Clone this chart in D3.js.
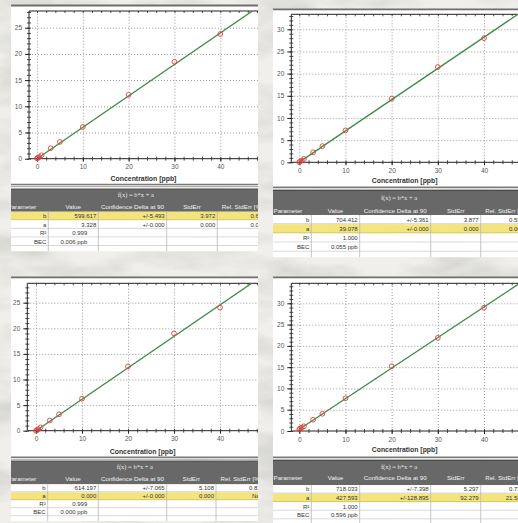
<!DOCTYPE html>
<html><head><meta charset="utf-8">
<script src="https://cdn.jsdelivr.net/npm/d3@7"></script>
<style>body{margin:0;background:#efeeeb}svg{display:block}</style>
</head><body>
<svg id="c" width="518" height="523"></svg>
<script>
// ---------- data ----------
const concentrations = [0, 0.2, 0.5, 1, 3, 5, 10, 20, 30, 40];
const intensity1 = [0.05, 0.15, 0.35, 0.65, 2.0, 3.2, 6.05, 12.2, 18.5, 23.8];
const intensity2 = [0.05, 0.18, 0.4, 0.75, 2.25, 3.65, 7.2, 14.35, 21.5, 28.0];
const intensity3 = [0.0, 0.12, 0.3, 0.65, 2.0, 3.2, 6.25, 12.55, 19.0, 24.05];
const intensity4 = [0.45, 0.55, 0.8, 1.1, 2.65, 4.05, 7.7, 15.2, 21.9, 28.95];
const slopeB = [599.617, 704.412, 614.197, 718.033];
const interceptA = [3.328, 39.078, 0.000, 427.593];
const xTickValues = [0, 10, 20, 30, 40];
const yTicksShort = [0, 5, 10, 15, 20, 25];
const yTicksLong = [0, 5, 10, 15, 20, 25, 30];
const xAxisTitle = "Concentration [ppb]";
const fitFormula = "f(x) = b*x + a";
const tableHeaders = ["Parameter", "Value", "Confidence Delta at 90", "StdErr", "Rel. StdErr [%]"];
const paramNames = ["b", "a", "R²", "BEC"];
const valueColumn = [
  ["599.617", "3.328", "0.999", "0.006 ppb"],
  ["704.412", "39.078", "1.000", "0.055 ppb"],
  ["614.197", "0.000", "0.999", "0.000 ppb"],
  ["718.033", "427.593", "1.000", "0.596 ppb"]];
const confColumn = [["+/-5.493", "+/-0.000"], ["+/-5.361", "+/-0.000"], ["+/-7.065", "+/-0.000"], ["+/-7.398", "+/-128.895"]];
const stdErrColumn = [["3.972", "0.000"], ["3.877", "0.000"], ["5.108", "0.000"], ["5.297", "92.279"]];
const relStdErrColumn = [["0.662", "0.000"], ["0.550", "0.000"], ["0.832", "NaN"], ["0.738", "21.581"]];
const highlightedRow = [0, 1, 1, 1];

const series = [intensity1, intensity2, intensity3, intensity4];
const yTickSets = [yTicksShort, yTicksLong, yTicksShort, yTicksLong];

// ---------- layout ----------
const layouts = [
  {cx0: 11, cx1: 258, top: 5.5, bot: 185.5, plotL: 29, plotT: 11, x0: 37, x40: 220.3, y0: 158.7, yRefPx: 27.7, yRef: 25, titleY: 180.5,
   tTop: 188.5, hBot: 211.7, rowH: 8.6, fxY: 195, hdrY: 207, cols: [48.3, 98.3, 166.7, 217.3], relRight: 265.5, paramX: 7.5, statInset: 9},
  {cx0: 273, cx1: 518, top: 9.3, bot: 188.3, plotL: 291.3, plotT: 14.3, x0: 299.3, x40: 484, y0: 162.3, yRefPx: 29.3, yRef: 30, titleY: 183,
   tTop: 190, hBot: 215, rowH: 9.2, fxY: 197.5, hdrY: 211, cols: [311.3, 359.7, 430.7, 480.7], relRight: 524, paramX: 273.5, statInset: 0},
  {cx0: 11, cx1: 258, top: 277.3, bot: 458.3, plotL: 27.3, plotT: 283.3, x0: 36, x40: 220, y0: 430.7, yRefPx: 302.7, yRef: 25, titleY: 453.5,
   tTop: 460.5, hBot: 484.3, rowH: 8, fxY: 467, hdrY: 478.5, cols: [47.7, 98.3, 166.7, 216], relRight: 264, paramX: 7.5, statInset: 9},
  {cx0: 273, cx1: 518, top: 277.3, bot: 458.3, plotL: 291.3, plotT: 283.3, x0: 299.3, x40: 484, y0: 431, yRefPx: 303.3, yRef: 30, titleY: 452,
   tTop: 460, hBot: 485, rowH: 8.6, fxY: 467, hdrY: 478, cols: [311.3, 359.7, 430.7, 480.7], relRight: 524, paramX: 273.5, statInset: 0}
];

const FONT = "'Liberation Sans', Arial, sans-serif";
const svg = d3.select("#c");
const defs = svg.append("defs");

// marble-like background texture
const f = defs.append("filter").attr("id", "tex").attr("x", 0).attr("y", 0).attr("width", "100%").attr("height", "100%");
f.append("feTurbulence").attr("type", "fractalNoise").attr("baseFrequency", "0.012 0.03").attr("numOctaves", 4).attr("seed", 7);
f.append("feColorMatrix").attr("type", "matrix").attr("values", "0 0 0 0 0.6  0 0 0 0 0.6  0 0 0 0 0.58  2.4 0 0 0 -0.95");
svg.append("rect").attr("width", 518).attr("height", 523).attr("fill", "#f0efec");
svg.append("rect").attr("width", 518).attr("height", 523).attr("filter", "url(#tex)").attr("opacity", 0.75);

layouts.forEach((L, i) => {
  const g = svg.append("g");
  // chart clip
  defs.append("clipPath").attr("id", "cc" + i).append("rect")
    .attr("x", L.cx0).attr("y", L.top - 2).attr("width", L.cx1 - L.cx0).attr("height", L.bot - L.top + 4);
  const cg = g.append("g").attr("clip-path", `url(#cc${i})`);
  cg.append("rect").attr("x", L.cx0).attr("y", L.top).attr("width", L.cx1 - L.cx0).attr("height", L.bot - L.top).attr("fill", "#fff");
  cg.append("line").attr("x1", L.cx0).attr("x2", L.cx1).attr("y1", L.top).attr("y2", L.top).attr("stroke", "#6e6e6e").attr("stroke-width", 1.8);

  const x = d3.scaleLinear().domain([0, 40]).range([L.x0, L.x40]);
  const y = d3.scaleLinear().domain([0, L.yRef]).range([L.y0, L.yRefPx]);
  const xMax = x.invert(L.cx1), yMax = y.invert(L.plotT);
  const plotW = L.cx1 - L.plotL, plotH = L.y0 - L.plotT;

  // grid
  cg.append("g").attr("transform", `translate(0,${L.y0})`)
    .call(d3.axisBottom(x).tickValues(xTickValues).tickSize(-plotH).tickFormat(""))
    .call(a => { a.select(".domain").remove(); a.selectAll("line").attr("stroke", "#8e8e8e").attr("stroke-dasharray", "1 2").attr("stroke-width", 0.9); });
  cg.append("g").attr("transform", `translate(${L.plotL},0)`)
    .call(d3.axisLeft(y).tickValues(yTickSets[i].filter(v => v > 0)).tickSize(-plotW).tickFormat(""))
    .call(a => { a.select(".domain").remove(); a.selectAll("line").attr("stroke", "#8e8e8e").attr("stroke-dasharray", "1 2").attr("stroke-width", 0.9); });

  // minor ticks
  const yMinor = d3.range(0, Math.floor(yMax) + 1);
  const xMinor = d3.range(0, Math.floor(xMax) + 1, 2);
  [2, -2].forEach(s => {
    cg.append("g").attr("transform", `translate(${L.plotL},0)`)
      .call(d3.axisLeft(y).tickValues(yMinor).tickSize(s).tickFormat("").tickSizeOuter(0))
      .call(a => { a.select(".domain").remove(); a.selectAll("line").attr("stroke", "#222").attr("stroke-width", 0.8); });
    cg.append("g").attr("transform", `translate(0,${L.y0})`)
      .call(d3.axisBottom(x).tickValues(xMinor).tickSize(s).tickFormat("").tickSizeOuter(0))
      .call(a => { a.select(".domain").remove(); a.selectAll("line").attr("stroke", "#222").attr("stroke-width", 0.8); });
  });
  cg.append("g").attr("transform", `translate(0,${L.plotT})`)
    .call(d3.axisBottom(x).tickValues(xMinor).tickSize(2).tickFormat("").tickSizeOuter(0))
    .call(a => { a.select(".domain").remove(); a.selectAll("line").attr("stroke", "#222").attr("stroke-width", 0.8); });

  // major ticks + labels
  cg.append("g").attr("transform", `translate(${L.plotL},0)`)
    .call(d3.axisLeft(y).tickValues(yTickSets[i]).tickSize(4).tickPadding(3).tickFormat(d3.format("d")))
    .call(a => { a.select(".domain").remove(); a.selectAll("line").attr("stroke", "#222");
      a.selectAll("text").attr("font-family", FONT).attr("font-size", 6.5).attr("fill", "#555"); });
  cg.append("g").attr("transform", `translate(0,${L.y0})`)
    .call(d3.axisBottom(x).tickValues(xTickValues).tickSize(3).tickPadding(3).tickFormat(d3.format("d")))
    .call(a => { a.select(".domain").remove(); a.selectAll("line").attr("stroke", "#222");
      a.selectAll("text").attr("font-family", FONT).attr("font-size", 6.5).attr("fill", "#555"); });

  // frame
  cg.append("path").attr("d", `M${L.cx1},${L.plotT}H${L.plotL}V${L.y0}H${L.cx1}`)
    .attr("fill", "none").attr("stroke", "#222").attr("stroke-width", 1);

  cg.append("text").attr("x", (L.plotL + L.cx1) / 2).attr("y", L.titleY).attr("text-anchor", "middle")
    .attr("font-family", FONT).attr("font-size", 6.9).attr("fill", "#333").attr("font-weight", "bold").text(xAxisTitle);

  // fit line + points
  defs.append("clipPath").attr("id", "pc" + i).append("rect")
    .attr("x", L.plotL).attr("y", L.plotT).attr("width", plotW).attr("height", plotH + 4);
  const pg = cg.append("g").attr("clip-path", `url(#pc${i})`);
  const fitX = [0, xMax];
  const fitLine = d3.line().x(d => x(d)).y(d => y((slopeB[i] * d + interceptA[i]) / 1000));
  pg.append("path").attr("d", fitLine(fitX)).attr("stroke", "#3f8b46").attr("stroke-width", 1.3).attr("fill", "none");
  pg.selectAll("circle").data(concentrations).join("circle")
    .attr("cx", d => x(d)).attr("cy", (d, k) => y(series[i][k])).attr("r", 2.4)
    .attr("fill", "none").attr("stroke", "#e2403c").attr("stroke-width", 0.9);

  // bottom bar
  cg.append("line").attr("x1", L.cx0).attr("x2", L.cx1).attr("y1", L.bot - 1).attr("y2", L.bot - 1).attr("stroke", "#7a7a7a").attr("stroke-width", 1.4);
  cg.append("line").attr("x1", L.cx0).attr("x2", L.cx1).attr("y1", L.bot + 1).attr("y2", L.bot + 1).attr("stroke", "#b0b0b0").attr("stroke-width", 1);

  // ---------- table ----------
  const nRows = 4;
  const tBottom = L.hBot + L.rowH * (nRows + 0.6);
  defs.append("clipPath").attr("id", "tc" + i).append("rect")
    .attr("x", L.cx0).attr("y", L.tTop).attr("width", L.cx1 - L.cx0).attr("height", tBottom - L.tTop);
  const tg = g.append("g").attr("clip-path", `url(#tc${i})`);
  tg.append("rect").attr("x", L.cx0).attr("y", L.tTop).attr("width", L.cx1 - L.cx0).attr("height", L.hBot - L.tTop).attr("fill", "#686868");
  tg.append("line").attr("x1", L.cx0).attr("x2", L.cx1).attr("y1", L.tTop + 0.5).attr("y2", L.tTop + 0.5).attr("stroke", "#4a4a4a");
  tg.append("text").attr("x", (L.cols[0] + L.cols[3]) / 2 + 3).attr("y", L.fxY).attr("dy", "0.35em").attr("text-anchor", "middle")
    .attr("font-family", "'Liberation Serif', serif").attr("font-size", 6.5).attr("fill", "#e8e8e8").text(fitFormula);
  const hdrX = [L.paramX, (L.cols[0] + L.cols[1]) / 2, (L.cols[1] + L.cols[2]) / 2, (L.cols[2] + L.cols[3]) / 2, L.cols[3] + 4.5];
  const hdrAnchor = ["start", "middle", "middle", "middle", "start"];
  tableHeaders.forEach((h, k) => {
    tg.append("text").attr("x", hdrX[k]).attr("y", L.hdrY).attr("dy", "0.35em").attr("text-anchor", hdrAnchor[k])
      .attr("font-family", FONT).attr("font-size", 6.2).attr("fill", "#f2f2f2").text(h);
  });
  const rowsY = d3.range(nRows + 1).map(r => L.hBot + r * L.rowH);
  rowsY.forEach((ry, r) => {
    const hl = r === highlightedRow[i];
    tg.append("rect").attr("x", L.cx0).attr("y", ry).attr("width", L.cx1 - L.cx0).attr("height", L.rowH)
      .attr("fill", hl ? "#f3e47e" : "#ffffff");
    tg.append("line").attr("x1", L.cx0).attr("x2", L.cx1).attr("y1", ry + L.rowH - 0.5).attr("y2", ry + L.rowH - 0.5)
      .attr("stroke", hl ? "#cdbd55" : "#c9c9c9").attr("stroke-width", 0.8);
  });
  L.cols.forEach(cx => {
    tg.append("line").attr("x1", cx).attr("x2", cx).attr("y1", L.hBot).attr("y2", tBottom).attr("stroke", "#b8b8b8").attr("stroke-width", 0.8);
  });
  const cellText = (tx, r, t) => tg.append("text").attr("x", tx).attr("y", L.hBot + r * L.rowH + L.rowH / 2).attr("dy", "0.35em")
    .attr("text-anchor", "end").attr("font-family", FONT).attr("font-size", 6).attr("fill", "#333").text(t);
  paramNames.forEach((p, r) => {
    cellText(L.cols[0] - 2, r, p);
    cellText(L.cols[1] - 2 - (r >= 2 ? L.statInset : 0), r, valueColumn[i][r]);
  });
  [0, 1].forEach(r => {
    cellText(L.cols[2] - 2, r, confColumn[i][r]);
    cellText(L.cols[3] - 2, r, stdErrColumn[i][r]);
    cellText(L.relRight, r, relStdErrColumn[i][r]);
  });
});
</script>
</body></html>
